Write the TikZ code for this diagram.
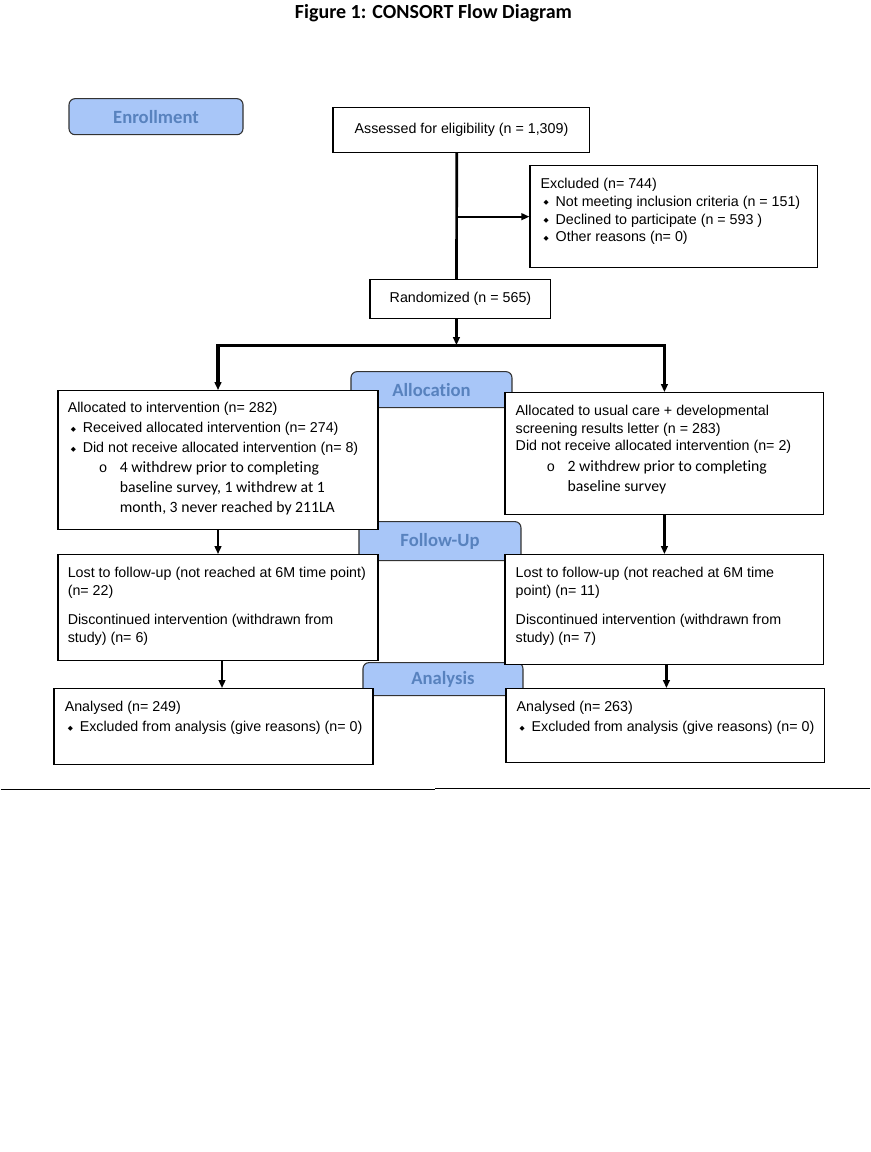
\documentclass[tikz,border=0pt]{standalone}
\usepackage{fontspec}
\setmainfont{Liberation Sans}
\newfontfamily\calib[Ligatures=NoCommon]{Carlito}
\newfontfamily\symf{DejaVu Sans}
\newfontfamily\monof{Liberation Mono}
\usetikzlibrary{arrows.meta,positioning}
\definecolor{StageFill}{RGB}{168,198,248}
\definecolor{StageText}{RGB}{88,130,190}
\newlength\px
\setlength\px{0.75pt}
\newcommand\bodyf{\fontsize{10.7}{13.3}\selectfont}
\newcommand\calbody{\calib\fontsize{11.8}{15}\selectfont}
\newcommand\dia{\hspace*{3\px}\makebox[12\px][l]{\raisebox{1.2pt}{\symf\fontsize{5}{5}\selectfont ◆}}}
\newcommand\subo{\hspace*{31\px}\makebox[21\px][l]{\monof o}}

\begin{document}
\begin{tikzpicture}[x=0.75pt, y=-0.75pt,
  box/.style={draw, line width=0.8pt, fill=white, anchor=north west, inner sep=0pt},
  stage/.style={draw=black!80, line width=0.8pt, rounded corners=4.5pt, fill=StageFill, text=StageText,
    font=\calib\bfseries\fontsize{14}{14}\selectfont, anchor=north west, inner sep=0pt},
  txt/.style={anchor=north west, align=left, inner sep=0pt},
  flow/.style={-{Triangle[length=6pt,width=5pt]}, line width=1.6pt}]
  \path[fill=white] (0,0) rectangle (870,1152);
  \node[font=\calib\bfseries\fontsize{15}{15}\selectfont] (title) at (433,13) {Figure 1: CONSORT Flow Diagram};

  % stage labels (under the boxes)
  \node[stage, minimum width=174\px, minimum height=36\px] (enroll) at (68,98) {Enrollment};
  \node[stage, minimum width=161\px, minimum height=36\px] (allocation) at (350,371) {Allocation};
  \node[stage, minimum width=162\px, minimum height=39\px] (followup) at (358,521) {Follow-Up};
  \node[stage, minimum width=160\px, minimum height=33\px] (analysis) at (362,662) {Analysis};

  % enrollment
  \node[box, minimum width=257\px, minimum height=45\px, font=\bodyf] (assess) at (332,107) {Assessed for eligibility (n = 1,309)};
  \node[box, minimum width=288\px, minimum height=102\px] (excl) at (529,165) {};
  \node[txt, font=\bodyf] (excltxt) at (540,178) {Excluded (n= 744)\\
    \dia Not meeting inclusion criteria (n = 151)\\
    \dia Declined to participate (n = 593 )\\
    \dia Other reasons (n= 0)};
  \node[box, minimum width=181\px, minimum height=39\px, font=\bodyf] (rand) at (369,279) {Randomized (n = 565)};
  \coordinate (split) at (456,345);

  % allocation
  \node[box, minimum width=320\px, minimum height=139\px] (allocL) at (57,390) {};
  \node[txt, font=\fontsize{10.7}{15}\selectfont] (allocLtxt) at (67,402) {Allocated to intervention (n= 282)\\
    \dia Received allocated intervention (n= 274)\\
    \dia Did not receive allocated intervention (n= 8)\\
    \subo{\calbody 4 withdrew prior to completing}\\
    \hspace*{52\px}{\calbody baseline survey, 1 withdrew at 1}\\
    \hspace*{52\px}{\calbody month, 3 never reached by 211LA}};
  \node[box, minimum width=319\px, minimum height=122\px] (allocR) at (504,392) {};
  \node[txt, font=\fontsize{10.7}{13.2}\selectfont] (allocRtxt) at (515,405) {Allocated to usual care + developmental\\
    screening results letter (n = 283)\\
    Did not receive allocated intervention (n= 2)\\[2.5\px]
    \subo{\calbody 2 withdrew prior to completing}\\[2.5\px]
    \hspace*{52\px}{\calbody baseline survey}};

  % follow-up
  \node[box, minimum width=320\px, minimum height=106\px] (fuL) at (57,554) {};
  \node[txt, font=\fontsize{10.7}{13.5}\selectfont] (fuLtxt) at (67,567) {Lost to follow-up (not reached at 6M time point)\\
    (n= 22)\\[8.25pt]
    Discontinued intervention (withdrawn from\\
    study) (n= 6)};
  \node[box, minimum width=319\px, minimum height=110\px] (fuR) at (504,554) {};
  \node[txt, font=\fontsize{10.7}{13.5}\selectfont] (fuRtxt) at (515,567) {Lost to follow-up (not reached at 6M time\\
    point) (n= 11)\\[8.25pt]
    Discontinued intervention (withdrawn from\\
    study) (n= 7)};

  % analysis
  \node[box, minimum width=319\px, minimum height=76\px] (anL) at (53,688) {};
  \node[txt, font=\fontsize{10.7}{15}\selectfont] (anLtxt) at (64,701) {Analysed (n= 249)\\
    \dia Excluded from analysis (give reasons) (n= 0)};
  \node[box, minimum width=319\px, minimum height=74\px] (anR) at (505,688) {};
  \node[txt, font=\fontsize{10.7}{15}\selectfont] (anRtxt) at (516,701) {Analysed (n= 263)\\
    \dia Excluded from analysis (give reasons) (n= 0)};

  % connectors
  \draw[line width=2pt] ([xshift=-3.5pt]assess.south) -- ([xshift=-3pt]rand.north);
  \draw[flow] ([xshift=-3.5pt]assess.south |- excl.west) -- (excl.west);
  \draw[flow] (split |- rand.south) -- (split);
  \draw[flow, line width=2.4pt] (split) -| (allocL.north);
  \draw[flow, line width=2.4pt] (split) -| (allocR.north);
  \draw[flow] (allocL.south) -- (fuL.north);
  \draw[flow] (allocR.south) -- (fuR.north);
  \draw[flow] ([xshift=4\px]fuL.south) -- ([xshift=4\px]fuL.south |- anL.north);
  \draw[flow] ([xshift=2\px]fuR.south) -- ([xshift=2\px]fuR.south |- anR.north);

  % rule under the figure
  \draw[line width=0.75pt] (0,789) -- (435,789);
  \draw[line width=0.75pt] (435,788) -- (870,788);
\end{tikzpicture}
\end{document}
